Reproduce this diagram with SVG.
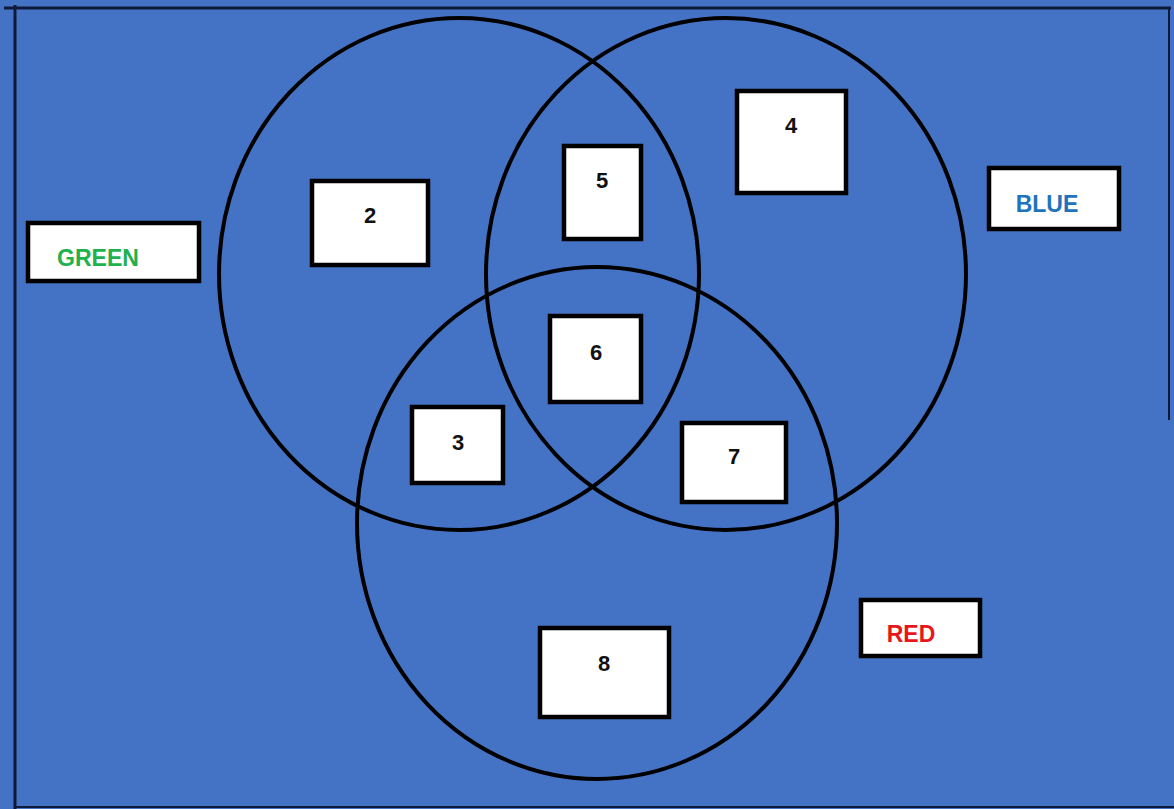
<svg xmlns="http://www.w3.org/2000/svg" width="1174" height="809" viewBox="0 0 1174 809">
<style>
.circ{fill:none;stroke:#000;stroke-width:4}
.box{fill:#fff;stroke:#000;stroke-width:4.5}
.num{font-family:"Liberation Sans",Arial,sans-serif;font-weight:bold;font-size:22px;text-anchor:middle;fill:#111}
.lbl{font-family:"Liberation Sans",Arial,sans-serif;font-weight:bold;font-size:23px;text-anchor:middle}
.frame{stroke:#0f1a3a;fill:none}
</style>
<rect x="0" y="0" width="1174" height="809" fill="#4472c4"/>
<g id="frame">
<line class="frame" x1="4" y1="8" x2="1171" y2="8" stroke-width="3"/>
<line class="frame" x1="15" y1="5" x2="15" y2="809" stroke-width="3"/>
<line class="frame" x1="1169" y1="8" x2="1169" y2="420" stroke-width="2"/>
<line class="frame" x1="15" y1="807" x2="1174" y2="807" stroke-width="2"/>
</g>
<g id="circles">
<ellipse id="green-set" class="circ" cx="459" cy="274" rx="240" ry="256"/>
<ellipse id="blue-set" class="circ" cx="726" cy="274" rx="240" ry="256"/>
<ellipse id="red-set" class="circ" cx="597" cy="523" rx="240" ry="256"/>
</g>
<g id="n2"><rect class="box" x="312" y="181" width="116" height="84"/><text class="num" x="370" y="223">2</text></g>
<g id="n5"><rect class="box" x="564" y="146" width="77" height="93"/><text class="num" x="602" y="188">5</text></g>
<g id="n4"><rect class="box" x="737" y="91" width="109" height="102"/><text class="num" x="791" y="133">4</text></g>
<g id="n6"><rect class="box" x="550" y="316" width="91" height="86"/><text class="num" x="596" y="360">6</text></g>
<g id="n3"><rect class="box" x="412" y="407" width="91" height="76"/><text class="num" x="458" y="450">3</text></g>
<g id="n7"><rect class="box" x="682" y="423" width="104" height="79"/><text class="num" x="734" y="464">7</text></g>
<g id="n8"><rect class="box" x="540" y="628" width="129" height="89"/><text class="num" x="604" y="671">8</text></g>
<g id="green"><rect class="box" x="28" y="223" width="171" height="58"/><text class="lbl" x="98" y="266" fill="#1fb14e">GREEN</text></g>
<g id="blue"><rect class="box" x="989" y="168" width="130" height="61"/><text class="lbl" x="1047" y="212" fill="#1e73be">BLUE</text></g>
<g id="red"><rect class="box" x="861" y="600" width="119" height="56"/><text class="lbl" x="911" y="642" fill="#e8161b">RED</text></g>
</svg>
